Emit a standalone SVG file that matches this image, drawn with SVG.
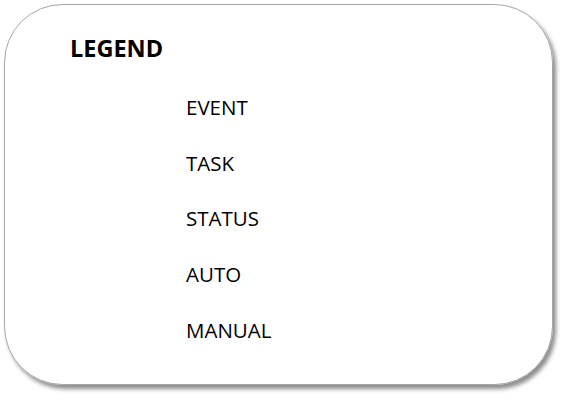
<svg xmlns="http://www.w3.org/2000/svg" width="566" height="400" viewBox="0 0 566 400">
  <defs>
    <filter id="shadow" x="-5%" y="-5%" width="112%" height="115%">
      <feDropShadow dx="3" dy="4" stdDeviation="2" flood-color="#000" flood-opacity="0.45"/>
    </filter>
  </defs>
  <style>
    .panel { fill: #ffffff; stroke: #a6a6a6; stroke-width: 1; }
    .title { font-family: "Open Sans", "Liberation Sans", Arial, sans-serif; font-weight: bold; font-size: 23.5px; fill: #000; }
    .item { font-family: "Open Sans", "Liberation Sans", Arial, sans-serif; font-size: 20.5px; fill: #000; }
  </style>
  <rect width="566" height="400" fill="#ffffff"/>
  <g id="legend-panel">
    <rect class="panel" x="4.5" y="4.5" width="548" height="380" rx="58" ry="58" filter="url(#shadow)"/>
    <text class="title" x="70" y="57">LEGEND</text>
  </g>
  <g id="item-event"><text class="item" x="186" y="115">EVENT</text></g>
  <g id="item-task"><text class="item" x="186" y="171">TASK</text></g>
  <g id="item-status"><text class="item" x="186" y="226">STATUS</text></g>
  <g id="item-auto"><text class="item" x="186" y="282">AUTO</text></g>
  <g id="item-manual"><text class="item" x="186" y="338">MANUAL</text></g>
</svg>
